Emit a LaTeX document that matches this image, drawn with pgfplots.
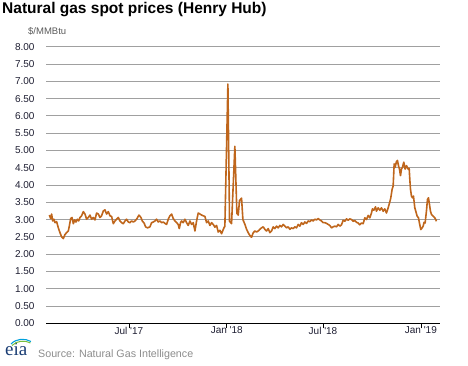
\documentclass[border=0pt]{standalone}
\usepackage{pgfplots}
\pgfplotsset{compat=1.18}
\usepackage{fontspec}
\setmainfont{Liberation Sans}
\newfontfamily\serifeia{Liberation Serif}
\definecolor{gasline}{RGB}{191,102,28}
\definecolor{gridgray}{RGB}{160,160,160}
\definecolor{ticktext}{RGB}{30,30,50}
\definecolor{srcgray}{RGB}{140,140,140}
\definecolor{unitgray}{RGB}{90,90,90}
\definecolor{eiablue}{RGB}{25,60,115}
\definecolor{eiacyan}{RGB}{0,160,220}
\definecolor{eiagreen}{RGB}{120,190,60}
\begin{document}
\begin{tikzpicture}[x=1pt,y=1pt]
\path[use as bounding box] (0,0) rectangle (468,366);
\node[anchor=base west, inner sep=0pt, font=\fontsize{15.5}{18}\selectfont\bfseries] at (2,352) {Natural gas spot prices (Henry Hub)};
\node[anchor=base west, inner sep=0pt, font=\fontsize{9.5}{11}\selectfont, text=unitgray] at (28,331) {\$/MMBtu};
\node[anchor=base west, inner sep=0pt, font=\fontsize{10.7}{12}\selectfont, text=srcgray] at (38,8) {Source: Natural Gas Intelligence};
\node[anchor=base west, inner sep=0pt, font=\serifeia\fontsize{19}{20}\selectfont, text=eiablue] at (5,10) {eia};
\draw[eiacyan, line width=1.1pt] (11,22) .. controls (16,27.5) and (25,28) .. (31,24.5);
\draw[eiagreen, line width=1.0pt] (12,20.5) .. controls (17,25.5) and (25,26) .. (30.5,23);
\begin{axis}[
  at={(46pt,42.7pt)}, anchor=origin, scale only axis,
  width=394pt, height=276.6pt,
  xmin=0, xmax=741, ymin=0, ymax=8,
  axis x line*=bottom, axis y line*=left,
  x axis line style={-, black, line width=0.9pt},
  y axis line style={draw=none},
  ytick={0,0.5,1,1.5,2,2.5,3,3.5,4,4.5,5,5.5,6,6.5,7,7.5,8},
  xtick={156,340,521,705},
  xticklabels={Jul \textquotesingle17, Jan \textquotesingle18, Jul \textquotesingle18, Jan \textquotesingle19},
  ytick style={draw=none},
  xtick style={black, line width=0.7pt},
  major tick length=5pt, tick align=outside,
  ymajorgrids, grid style={gridgray, line width=0.8pt},
  yticklabel style={font=\fontsize{10}{12}\selectfont, text=ticktext, xshift=-3pt,
    /pgf/number format/.cd, fixed, fixed zerofill, precision=2, assume math mode=true},
  xticklabel style={font=\fontsize{10}{12}\selectfont, text=ticktext, inner sep=1.5pt, yshift=3pt},
  x filter/.expression={x-25},
  clip=false,
]
% x = days since 1 Jan 2017 (shifted by 25 days by the filter so that the axis origin is the plot corner)
\addplot[gasline, line width=1.6pt, line join=round] coordinates {
(31.2,3.13) (33.8,3.03) (35.6,3.16) (37.5,2.96) (40.0,3.01) (41.9,2.91) (45.0,2.94) (48.2,2.76)
(51.3,2.62) (54.4,2.50) (57.6,2.45) (60.7,2.57) (63.8,2.62) (67.0,2.67) (68.8,2.81) (71.4,3.03)
(73.9,3.06) (76.4,2.88) (78.9,2.99) (81.4,2.93) (83.9,3.01) (86.4,2.96) (88.9,3.06) (92.0,3.11)
(95.2,3.23) (98.3,3.16) (101.4,3.01) (104.6,3.06) (107.7,3.13) (110.8,3.01) (114.0,3.06) (117.1,2.99)
(120.2,3.19) (123.4,3.16) (126.5,3.06) (129.6,3.11) (132.8,3.25) (135.9,3.28) (139.0,3.16) (142.2,3.23)
(145.3,3.11) (148.4,3.09) (151.6,2.88) (154.7,2.96) (157.8,3.01) (161.0,3.06) (164.1,2.96) (167.2,2.91)
(170.4,2.88) (173.5,2.96) (176.6,3.01) (179.8,2.93) (182.9,2.91) (186.0,2.96) (189.2,2.93)
(192.3,2.96) (195.4,3.01) (199.8,3.13) (203.6,3.06) (206.1,2.96) (209.8,2.89) (212.3,2.79) (216.1,2.76)
(220.5,2.79) (223.6,2.91) (226.7,2.93) (229.9,2.96) (233.0,3.01) (236.1,2.93) (239.3,2.96) (242.4,2.91)
(245.5,2.93) (248.7,2.89) (251.8,2.86) (254.9,3.01) (258.1,3.11) (261.2,3.16) (264.3,3.03) (267.5,2.96)
(270.6,2.91) (273.7,2.86) (275.6,2.74) (278.1,2.91) (280.0,2.96) (283.1,2.91) (286.3,3.01) (289.4,2.91)
(292.5,2.83) (295.7,2.96) (298.8,2.86) (301.9,2.91) (305.1,2.67) (308.2,2.96) (311.3,3.19) (314.5,3.16)
(317.6,3.13) (320.7,3.11) (323.9,3.09) (327.0,2.91) (330.1,2.96) (333.3,2.83) (336.4,2.91) (339.5,2.86)
(342.7,2.78) (345.8,2.83) (348.9,2.64) (352.1,2.69) (355.2,2.59) (358.3,2.71) (360.2,2.78) (361.4,2.80)
(367.1,6.92) (370.2,2.95) (374.0,2.88) (380.2,5.12) (384.0,3.18) (386.5,3.13) (389.0,3.55) (392.8,3.62)
(395.3,3.00)
(399.1,2.86) (402.2,2.72) (405.3,2.62) (408.4,2.54) (411.6,2.49) (414.7,2.62) (417.8,2.67) (421.0,2.64)
(424.1,2.67) (427.2,2.72) (430.4,2.76) (433.5,2.79) (436.6,2.72) (439.8,2.67) (442.9,2.74) (446.0,2.62)
(449.2,2.67) (452.3,2.79) (455.4,2.74) (458.6,2.81) (461.7,2.76) (464.8,2.83) (468.0,2.79) (471.1,2.86)
(474.2,2.81) (477.4,2.76) (480.5,2.79) (483.6,2.72) (486.8,2.76) (489.9,2.74) (493.0,2.79) (496.2,2.76)
(499.3,2.86) (502.4,2.81) (505.6,2.91) (508.7,2.86) (511.8,2.93) (515.0,2.89) (518.1,2.96) (521.2,2.94)
(524.4,2.99) (527.5,2.96) (530.6,3.01) (533.8,2.99) (536.9,3.03) (540.0,2.99) (543.2,2.96) (546.3,2.91)
(549.4,2.91) (552.6,2.89) (555.7,2.86) (558.8,2.83) (562.0,2.76) (565.1,2.79) (568.2,2.81) (571.4,2.79)
(574.5,2.86)
(577.6,2.81) (580.8,2.85) (583.9,2.98) (587.0,2.95) (590.2,3.02) (593.3,2.98) (596.4,3.02) (599.6,3.00)
(602.7,2.95) (605.8,2.97) (609.0,2.92) (612.1,2.90) (615.2,2.85) (618.4,2.90) (621.5,2.88) (624.6,3.05)
(627.7,3.00) (630.9,3.12) (634.0,3.05) (637.1,3.19) (639.0,3.31) (641.5,3.27) (644.7,3.37) (646.5,3.24)
(649.7,3.34) (652.8,3.27) (655.9,3.34) (659.1,3.24) (662.2,3.31) (665.3,3.19) (668.5,3.34) (671.6,3.51)
(673.5,3.63) (676.0,3.88) (677.9,3.97) (679.8,4.61) (681.6,4.51) (684.1,4.68) (686.0,4.71) (687.9,4.56)
(689.8,4.46) (691.7,4.27) (693.5,4.46) (695.4,4.51) (697.9,4.66) (700.4,4.46) (702.9,4.56) (706.1,4.46)
(708.0,4.48) (709.2,4.17) (710.5,3.88) (712.3,3.68) (714.2,3.63) (716.1,3.68) (718.6,3.34) (720.5,3.24)
(723.0,3.10) (725.5,3.05) (728.0,2.85) (729.9,2.71) (732.4,2.76) (734.3,2.81) (736.1,2.92) (738.0,2.90)
(740.5,3.24) (742.4,3.58) (744.3,3.63) (746.2,3.44) (748.1,3.24) (749.9,3.15) (751.8,3.12) (754.3,3.08)
(756.2,3.05) (758.1,3.00) (759.3,2.95)
};
\end{axis}
\end{tikzpicture}
\end{document}
